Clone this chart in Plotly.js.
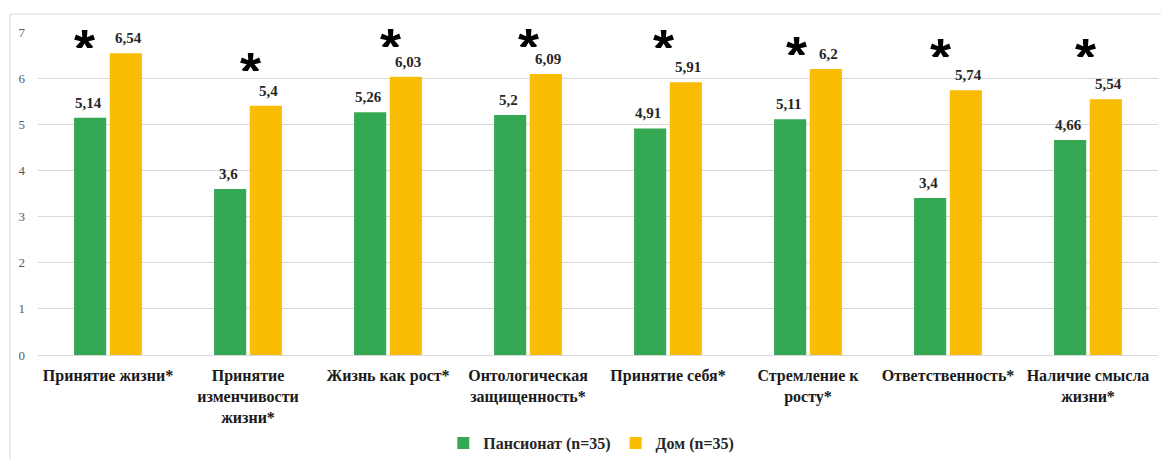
<!DOCTYPE html>
<html>
<head>
<meta charset="utf-8">
<script src="https://cdn.plot.ly/plotly-3.0.1.min.js"></script>
<style>
  html, body { margin: 0; padding: 0; background: #ffffff; }
  #chart { width: 1161px; height: 459px; }
</style>
</head>
<body>
<div id="chart"></div>
<script>
// Scale categories (multi-line axis labels)
const categories = [
  "Принятие жизни*",
  "Принятие<br>изменчивости<br>жизни*",
  "Жизнь как рост*",
  "Онтологическая<br>защищенность*",
  "Принятие себя*",
  "Стремление к<br>росту*",
  "Ответственность*",
  "Наличие смысла<br>жизни*"
];

// Mean scores per group
const pansionatValues = [5.14, 3.6, 5.26, 5.2, 4.91, 5.11, 3.4, 4.66];
const domValues       = [6.54, 5.4, 6.03, 6.09, 5.91, 6.2, 5.74, 5.54];

// Series names
const seriesNames = ["Пансионат (n=35)", "Дом (n=35)"];

// Significance marker label
const sigMark = "*";

// Layout of significance markers: height (axis units) and horizontal nudge (px)
const sigHeight = [6.84, 6.34, 6.86, 6.86, 6.84, 6.69, 6.65, 6.65];
const sigNudge  = [-24, 2, 2, 0, -5, -12, -8, -3];

const GREEN = "#34A853";
const YELLOW = "#FBBC04";
const SERIF = "Liberation Serif, Times New Roman, serif";
const SANS = "Liberation Sans, Arial, sans-serif";

const fmt = v => String(v).replace(".", ",");

const traces = [
  {
    type: "bar",
    name: seriesNames[0],
    x: categories,
    y: pansionatValues,
    marker: { color: GREEN },
    hoverinfo: "none"
  },
  {
    type: "bar",
    name: seriesNames[1],
    x: categories,
    y: domValues,
    marker: { color: YELLOW },
    hoverinfo: "none"
  }
];

const annotations = [];
// Value labels above each bar
const barShift = 20;
[[pansionatValues, -barShift], [domValues, barShift]].forEach(([vals, dx]) => {
  vals.forEach((v, i) => {
    annotations.push({
      x: categories[i], y: v, xref: "x", yref: "y",
      text: "<b>" + fmt(v) + "</b>",
      showarrow: false, xanchor: "center", yanchor: "bottom",
      xshift: dx, yshift: 5,
      font: { family: SERIF, size: 15, color: "#262626" }
    });
  });
});
// Significance asterisks (glyph sits in the top part of its box, so the box is trimmed)
categories.forEach((c, i) => {
  annotations.push({
    x: c, y: sigHeight[i], xref: "x", yref: "y",
    text: "<b>" + sigMark + "</b>",
    showarrow: false, xanchor: "center", yanchor: "top",
    height: 30, valign: "top",
    xshift: sigNudge[i], yshift: 23,
    font: { family: SANS, size: 54, color: "#000000" }
  });
});

const layout = {
  width: 1161,
  height: 459,
  margin: { l: 38, r: 3, t: 32, b: 104, pad: 0, autoexpand: false },
  paper_bgcolor: "#ffffff",
  plot_bgcolor: "#ffffff",
  barmode: "group",
  bargap: 0.49,
  bargroupgap: 0.1,
  showlegend: true,
  legend: {
    orientation: "h",
    x: 0.494, xanchor: "center",
    y: -0.22, yanchor: "top",
    font: { family: SERIF, size: 16, color: "#262626", weight: "bold" },
    itemwidth: 30,
    traceorder: "normal"
  },
  xaxis: {
    type: "category",
    automargin: false,
    tickfont: { family: SERIF, size: 16, color: "#1a1a1a", weight: "bold" },
    showgrid: false,
    zeroline: false,
    showline: false,
    ticks: "",
    ticklabelstandoff: 9
  },
  yaxis: {
    range: [0, 7],
    dtick: 1,
    tick0: 0,
    automargin: false,
    showgrid: true,
    gridcolor: "#d9d9d9",
    gridwidth: 1,
    zeroline: true,
    zerolinecolor: "#d9d9d9",
    zerolinewidth: 1,
    showline: false,
    ticks: "",
    ticklabelstandoff: 12,
    tickfont: { family: SERIF, size: 13, color: "#595959" }
  },
  annotations: annotations,
  shapes: [
    {
      type: "rect", xref: "paper", yref: "paper",
      x0: -28 / 1120, x1: 1.01,
      y0: -0.5, y1: 1 + 18 / 323,
      line: { color: "#d9d9d9", width: 1 },
      fillcolor: "rgba(0,0,0,0)",
      layer: "below"
    }
  ]
};

Plotly.newPlot("chart", traces, layout, { displayModeBar: false, staticPlot: true });
</script>
</body>
</html>
